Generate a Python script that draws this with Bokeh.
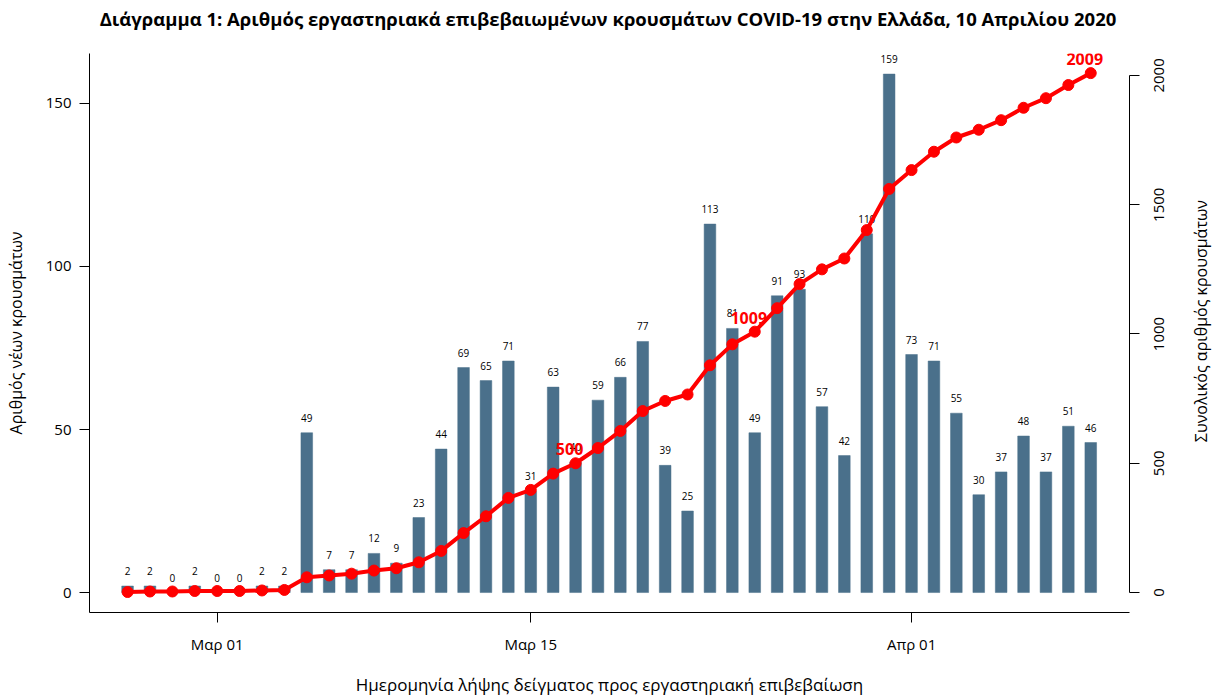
import math
import numpy as np
import pandas as pd
from bokeh.plotting import figure
from bokeh.layouts import row, column
from bokeh.models import Range1d, LinearAxis, FixedTicker, ColumnDataSource
from bokeh.core.properties import value
from bokeh.embed import file_html
from bokeh.resources import INLINE

# ---------------- data ----------------
start_date = "2020-02-26"
new_cases = [2, 2, 0, 2, 0, 0, 2, 2, 49, 7, 7, 12, 9, 23, 44, 69, 65, 71, 31, 63,
             40, 59, 66, 77, 39, 25, 113, 81, 49, 91, 93, 57, 42, 110, 159, 73,
             71, 55, 30, 37, 48, 37, 51, 46]
cumulative_cases = [2, 4, 4, 6, 6, 6, 8, 10, 59, 66, 73, 85, 94, 117, 161, 230,
                    295, 366, 397, 460, 500, 559, 625, 702, 741, 766, 879, 960,
                    1009, 1100, 1193, 1250, 1292, 1402, 1561, 1634, 1705, 1760,
                    1790, 1827, 1875, 1912, 1963, 2009]
highlight_values = [500, 1009, 2009]
left_ticks = [0, 50, 100, 150]
right_ticks = [0, 500, 1000, 1500, 2000]
x_tick_dates = ["2020-03-01", "2020-03-15", "2020-04-01"]
x_tick_labels = ["Μαρ 01", "Μαρ 15", "Απρ 01"]

title_text = ("Διάγραμμα 1: Αριθμός εργαστηριακά επιβεβαιωμένων κρουσμάτων "
              "COVID-19 στην Ελλάδα, 10 Απριλίου 2020")
x_title = "Ημερομηνία λήψης δείγματος προς εργαστηριακή επιβεβαίωση"
y_title = "Αριθμός νέων κρουσμάτων"
y2_title = "Συνολικός αριθμός κρουσμάτων"

# ---------------- derived positions ----------------
dates = pd.date_range(start_date, periods=len(new_cases), freq="D")
day = np.array((dates - dates[0]).days, dtype=float)
tick_pos = [float((pd.Timestamp(d) - dates[0]).days) for d in x_tick_dates]

src = ColumnDataSource(dict(
    x=day, new=new_cases, new_txt=[str(v) for v in new_cases], cum=cumulative_cases))
hl_x = [day[cumulative_cases.index(v)] for v in highlight_values]
hl_src = ColumnDataSource(dict(x=hl_x, y=highlight_values,
                               t=[str(v) for v in highlight_values]))

FONT = "Open Sans"
TOTAL_W, TOTAL_H = 1212, 698
TITLE_H = 36         # height of the strip holding the chart title
SIDE_W = 70          # width of the right-hand strip holding the rotated texts
MAIN_H = TOTAL_H - TITLE_H
BORDER_T, BORDER_B = 53 - TITLE_H, 85

cum_range = Range1d(-77.2, 2084.9)

# ---------------- title strip ----------------
top = figure(width=TOTAL_W, height=TITLE_H, output_backend="svg",
             toolbar_location=None, x_range=Range1d(0, TOTAL_W),
             y_range=Range1d(0, TITLE_H), min_border=0,
             x_axis_location=None, y_axis_location=None)
top.outline_line_color = None
top.grid.visible = False
top.background_fill_color = "white"
top.border_fill_color = "white"
top.text(x=[607.5], y=[TITLE_H - 18], text=[title_text], text_align="center",
         text_baseline="middle", text_font=value(FONT), text_font_size="18.5px",
         text_font_style="bold", text_color="black")

# ---------------- main chart ----------------
p = figure(width=TOTAL_W - SIDE_W, height=MAIN_H, output_backend="svg",
           toolbar_location=None,
           x_range=Range1d(-1.70, 44.73), y_range=Range1d(-6.12, 165.31),
           min_border_left=89, min_border_right=13, min_border_top=BORDER_T,
           min_border_bottom=BORDER_B)
p.extra_y_ranges = {"cum": cum_range}

p.outline_line_color = None
p.xgrid.visible = False
p.ygrid.visible = False
p.background_fill_color = "white"
p.border_fill_color = "white"

# bars
p.vbar(x="x", top="new", width=0.52, bottom=0, source=src,
       fill_color="#4A708B", line_color="#4A708B", line_width=0.5)
p.text(x="x", y="new", text="new_txt", source=src, text_align="center",
       text_baseline="middle", y_offset=-15, text_font=value(FONT),
       text_font_size="10px", text_color="black")

# cumulative line
p.line(x="x", y="cum", source=src, y_range_name="cum", line_color="#FF0000",
       line_width=4)
p.scatter(x="x", y="cum", source=src, y_range_name="cum", marker="circle",
          size=11, fill_color="#FF0000", line_color="#FF0000")
p.text(x="x", y="y", text="t", source=hl_src, y_range_name="cum",
       text_align="center", text_baseline="middle", x_offset=-6, y_offset=-14,
       text_font=value(FONT), text_font_size="16px", text_font_style="bold",
       text_color="#FF0000")

# axes
right = LinearAxis(y_range_name="cum")
p.add_layout(right, "right")


def style(ax):
    ax.axis_line_color = "black"
    ax.major_tick_line_color = "black"
    ax.major_tick_out = 10
    ax.major_tick_in = 0
    ax.minor_tick_line_color = None
    ax.major_label_text_color = "black"
    ax.major_label_text_font = FONT
    ax.major_label_text_font_size = "15px"
    ax.axis_label_text_font = FONT
    ax.axis_label_text_font_style = "normal"
    ax.axis_label_text_color = "black"


xa = p.xaxis[0]
ya = p.yaxis[0]
for ax in (xa, ya, right):
    style(ax)

xa.ticker = FixedTicker(ticks=tick_pos)
xa.major_label_overrides = {t: l for t, l in zip(tick_pos, x_tick_labels)}
xa.major_label_standoff = 11
xa.axis_label = x_title
xa.axis_label_text_font_size = "17px"
xa.axis_label_standoff = 16

ya.ticker = FixedTicker(ticks=left_ticks)
ya.major_label_standoff = 8
ya.axis_label = y_title
ya.axis_label_text_font_size = "16px"
ya.axis_label_standoff = 16

# right axis: line and ticks here, its rotated labels drawn in the side strip
right.ticker = FixedTicker(ticks=right_ticks)
right.bounds = (0, 2000)
right.major_label_text_font_size = "0px"
right.major_label_text_color = None
right.major_label_standoff = 0

# ---------------- right-hand strip with rotated texts ----------------
side = figure(width=SIDE_W, height=MAIN_H, output_backend="svg",
              toolbar_location=None, x_range=Range1d(0, SIDE_W), y_range=cum_range,
              min_border_left=0, min_border_right=0, min_border_top=BORDER_T,
              min_border_bottom=BORDER_B, x_axis_location=None,
              y_axis_location=None)
side.outline_line_color = None
side.grid.visible = False
side.background_fill_color = "white"
side.border_fill_color = "white"

side.text(x=[16] * len(right_ticks), y=right_ticks,
          text=[str(t) for t in right_ticks], angle=math.pi / 2,
          text_align="center", text_baseline="middle", text_font=value(FONT),
          text_font_size="15px", text_color="black")
side.text(x=[58], y=[1050], text=[y2_title], angle=math.pi / 2,
          text_align="center", text_baseline="middle", text_font=value(FONT),
          text_font_size="16px", text_color="black")

layout = column(top, row(p, side, spacing=0), spacing=0)
open("out.html", "w").write(file_html(layout, INLINE))
